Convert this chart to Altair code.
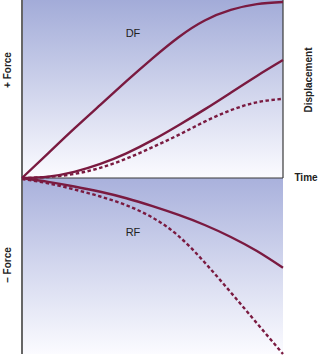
import altair as alt
import pandas as pd

# time grid (arbitrary units 0..10)
time = [0, 1, 2, 3, 4, 5, 6, 7, 8, 9, 10]
df_force = [0, 0.14, 0.28, 0.415, 0.55, 0.68, 0.80, 0.895, 0.955, 0.988, 1.0]
df_disp_solid = [0, 0.008, 0.035, 0.08, 0.14, 0.215, 0.30, 0.39, 0.485, 0.58, 0.67]
df_disp_dashed = [0, 0.006, 0.023, 0.058, 0.11, 0.175, 0.245, 0.32, 0.385, 0.43, 0.45]
rf_solid = [0, -0.022, -0.048, -0.078, -0.115, -0.16, -0.21, -0.267, -0.335, -0.415, -0.51]
rf_dashed = [-0.006, -0.03, -0.065, -0.105, -0.155, -0.225, -0.33, -0.48, -0.65, -0.825, -1.0]

series = {
    "df_force": (df_force, "solid"),
    "df_disp_solid": (df_disp_solid, "solid"),
    "df_disp_dashed": (df_disp_dashed, "dashed"),
    "rf_solid": (rf_solid, "solid"),
    "rf_dashed": (rf_dashed, "dashed"),
}
rows = []
for name, (vals, style) in series.items():
    for t, v in zip(time, vals):
        rows.append({"t": t, "v": v, "series": name, "style": style})
lines = pd.DataFrame(rows)

W, H = 324, 359
xs = alt.Scale(domain=[0, 10], range=[22, 283])
ys = alt.Scale(domain=[-1, 1], range=[354, 2])
X = lambda f: alt.X(f, type="quantitative", scale=xs, axis=None)
Y = lambda f: alt.Y(f, type="quantitative", scale=ys, axis=None)

panels = pd.DataFrame({"x0": [0, 0], "x1": [10, 10], "y0": [0, -1], "y1": [1.02, 0], "p": ["top", "bottom"]})

top_bg = alt.Chart(panels[panels.p == "top"]).mark_rect(
    fill=alt.LinearGradient(gradient="linear", x1=0, y1=0, x2=0, y2=1,
                            stops=[alt.GradientStop(color="#a2abd8", offset=0),
                                   alt.GradientStop(color="#fbfbff", offset=1)])
).encode(x=X("x0"), x2="x1", y=Y("y0"), y2="y1")

bot_bg = alt.Chart(panels[panels.p == "bottom"]).mark_rect(
    fill=alt.LinearGradient(gradient="linear", x1=0, y1=0, x2=0, y2=1,
                            stops=[alt.GradientStop(color="#a9b1dc", offset=0),
                                   alt.GradientStop(color="#d3d7ee", offset=0.5),
                                   alt.GradientStop(color="#fbfbff", offset=1)])
).encode(x=X("x0"), x2="x1", y=Y("y0"), y2="y1")

frame = pd.DataFrame({"x0": [0, 10], "x1": [10, 10], "y0": [0, 0], "y1": [0, 1.02]})
frame_rules = alt.Chart(frame).mark_rule(color="#3a3a3a", strokeWidth=1.2).encode(
    x=X("x0"), x2="x1", y=Y("y0"), y2="y1")

axis_df = pd.DataFrame({"x0": [0], "y0": [-1], "y1": [1.02]})
left_axis = alt.Chart(axis_df).mark_rule(color="#666666", strokeWidth=2).encode(
    x=X("x0"), y=Y("y0"), y2="y1")

curve_color = "#7a1a40"
solid = alt.Chart(lines[lines["style"] == "solid"]).mark_line(
    color=curve_color, strokeWidth=2.4, interpolate="natural"
).encode(x=X("t"), y=Y("v"), detail="series:N")
dashed = alt.Chart(lines[lines["style"] == "dashed"]).mark_line(
    color=curve_color, strokeWidth=2.4, strokeDash=[3.5, 2.5], interpolate="natural"
).encode(x=X("t"), y=Y("v"), detail="series:N")

font = "Liberation Sans, Arial, sans-serif"
def label(text, x, y, angle=0, bold=True, size=10):
    kw = dict(text=text, font=font, fontSize=size, fontWeight="bold" if bold else "normal",
              color="#222222", align="center", baseline="middle")
    if angle:
        kw["angle"] = angle
    return alt.Chart(pd.DataFrame({"a": [0]})).mark_text(**kw).encode(
        x=alt.value(x), y=alt.value(y))

texts = [
    label("+ Force", 8, 70, angle=270),
    label("\u2013 Force", 8, 265, angle=270),
    label("Displacement", 309, 80, angle=270),
    label("Time", 306, 178),
    label("DF", 133, 34, bold=False, size=11),
    label("RF", 133, 233, bold=False, size=11),
]

chart = alt.layer(top_bg, bot_bg, frame_rules, left_axis, solid, dashed, *texts).properties(
    width=W, height=H, autosize=alt.AutoSizeParams(type="none"), padding=0,
    background="white"
).configure_view(stroke=None)

chart.save("out.html", embed_options={"renderer": "svg", "actions": False})
